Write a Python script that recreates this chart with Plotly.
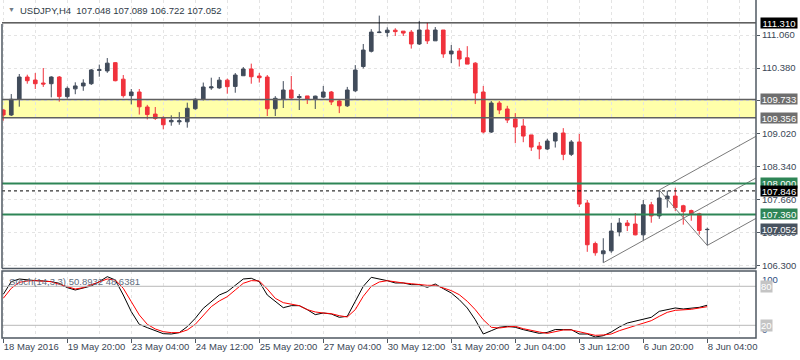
import plotly.graph_objects as go

# ---------------- data ----------------
bar_index = list(range(89))
tick_bars = [0, 8, 16, 24, 32, 40, 48, 56, 64, 72, 80, 88]
tick_labels = ["18 May 2016", "19 May 20:00", "23 May 04:00", "24 May 12:00", "25 May 20:00",
               "27 May 04:00", "30 May 12:00", "31 May 20:00", "2 Jun 04:00", "3 Jun 12:00",
               "6 Jun 20:00", "8 Jun 04:00"]

open_ = [109.514, 109.411, 109.735, 110.194, 110.132, 110.07, 110.056, 110.194, 109.79, 109.95,
         110.01, 110.056, 110.33, 110.32, 110.49, 110.15, 109.81, 109.885, 109.576, 109.43,
         109.36, 109.27, 109.27, 109.27, 109.54, 109.735, 109.97, 109.97, 110.13, 110.0,
         110.22, 110.36, 110.215, 110.194, 109.54, 109.735, 109.926, 109.77, 109.804, 109.74,
         109.78, 109.885, 109.70, 109.6, 109.91, 110.41, 110.725, 111.11, 111.11, 111.16,
         111.14, 111.12, 110.875, 111.163, 110.94, 111.163, 110.67, 110.73, 110.59, 110.48,
         109.885, 109.06, 109.658, 109.535, 109.33, 109.184, 109.0, 108.77, 108.71, 108.875,
         109.04, 108.6, 108.855, 107.596, 106.76, 106.55, 106.61, 107.0, 107.184, 107.163,
         106.94, 107.56, 107.33, 107.68, 107.74, 107.54, 107.44, 107.375, 107.048]
high = [109.53, 109.843, 110.256, 110.242, 110.276, 110.38, 110.21, 110.215, 110.00, 110.085,
        110.147, 110.36, 110.45, 110.585, 110.5, 110.235, 109.947, 109.947, 109.62, 109.576,
        109.385, 109.405, 109.47, 109.665, 109.755, 110.08, 110.18, 110.195, 110.16, 110.276,
        110.40, 110.47, 110.276, 110.235, 109.8, 110.11, 110.215, 109.843, 109.804, 109.81,
        110.01, 109.906, 109.72, 109.99, 110.44, 110.875, 111.18, 111.46, 111.22, 111.2,
        111.14, 111.163, 111.35, 111.31, 111.225, 111.163, 110.854, 110.79, 110.83, 110.5,
        110.01, 109.7, 109.7, 109.6, 109.45, 109.33, 109.0, 108.855, 108.92, 109.06,
        109.14, 108.895, 109.02, 107.66, 106.80, 106.87, 107.184, 107.287, 107.246, 107.39,
        107.658, 107.62, 107.865, 107.85, 107.91, 107.56, 107.46, 107.395, 107.089]
low = [109.294, 109.39, 109.582, 110.056, 109.947, 109.99, 109.775, 109.686, 109.75, 109.84,
       109.91, 110.03, 110.2, 110.28, 110.105, 109.77, 109.63, 109.42, 109.32, 109.31,
       109.115, 109.19, 109.21, 109.15, 109.52, 109.71, 109.93, 109.95, 109.85, 109.87,
       110.22, 110.056, 110.08, 109.39, 109.39, 109.555, 109.74, 109.514, 109.638, 109.535,
       109.76, 109.617, 109.45, 109.576, 109.885, 110.37, 110.70, 111.10, 111.025, 111.04,
       111.04, 110.78, 110.854, 110.875, 110.94, 110.59, 110.48, 110.41, 110.46, 109.637,
       109.033, 109.04, 109.43, 109.245, 108.83, 108.85, 108.67, 108.5, 108.69, 108.74,
       108.48, 108.565, 107.514, 106.59, 106.51, 106.365, 106.57, 106.91, 107.018, 106.93,
       106.82, 107.19, 107.27, 107.5, 107.43, 107.15, 107.23, 106.945, 106.722]
close = [109.411, 109.735, 110.194, 110.118, 110.056, 110.05, 110.194, 109.79, 109.96, 110.01,
         110.07, 110.34, 110.345, 110.48, 110.118, 109.81, 109.885, 109.58, 109.42, 109.34,
         109.21, 109.3, 109.29, 109.55, 109.735, 109.988, 109.99, 110.13, 109.995, 110.235,
         110.36, 110.2, 110.18, 109.54, 109.755, 109.926, 109.76, 109.79, 109.74, 109.80,
         109.885, 109.68, 109.60, 109.926, 110.338, 110.75, 111.12, 111.12, 111.16, 111.13,
         111.10, 110.875, 111.163, 110.94, 111.163, 110.67, 110.73, 110.565, 110.46, 109.865,
         109.06, 109.658, 109.514, 109.307, 109.163, 108.977, 108.75, 108.71, 108.875, 109.04,
         108.6, 108.855, 107.575, 106.736, 106.57, 106.61, 107.018, 107.184, 107.13, 106.94,
         107.56, 107.33, 107.70, 107.74, 107.50, 107.42, 107.36, 107.03, 107.052]

stoch_k = [67.6, 87.1, 91.2, 89.7, 88.7, 88.2, 87.1, 84.6, 77.9, 74.3,
           77.9, 80.5, 87.1, 94.8, 89.7, 66.6, 41.0, 21.5, 16.4, 11.2,
           7.1, 6.6, 8.7, 17.9, 30.7, 46.1, 56.4, 66.6, 71.7, 82.0,
           91.2, 92.3, 87.1, 66.6, 56.4, 47.1, 50.2, 50.2, 44.1, 36.4,
           38.9, 37.4, 32.3, 33.8, 56.9, 79.9, 93.8, 91.7, 88.6, 85.1,
           85.1, 82.5, 82.5, 78.4, 83.5, 76.4, 69.7, 59.4, 46.6, 28.6,
           6.6, 11.7, 16.9, 18.4, 16.9, 13.3, 10.7, 7.6, 9.0, 13.5,
           13.3, 13.3, 6.6, 6.6, 2.0, 4.0, 9.7, 17.4, 23.5, 26.1,
           28.6, 32.3, 41.5, 44.6, 46.6, 45.1, 46.6, 47.6, 50.8932]
stoch_d = [61.5, 76.9, 86.1, 88.2, 88.7, 88.2, 87.1, 83.0, 79.4, 75.8,
           77.9, 82.0, 86.1, 91.2, 89.7, 76.9, 56.4, 35.9, 21.5, 14.3,
           10.2, 8.7, 8.7, 12.8, 21.5, 35.9, 48.7, 57.4, 64.0, 74.3,
           84.6, 88.7, 88.2, 75.8, 61.5, 54.8, 52.3, 50.2, 44.1, 40.5,
           38.9, 37.9, 34.8, 32.8, 44.1, 64.6, 79.9, 86.6, 88.6, 86.6,
           85.1, 84.0, 82.5, 81.5, 81.5, 77.4, 73.3, 67.1, 56.9, 44.1,
           28.6, 16.9, 15.8, 17.4, 18.4, 14.8, 11.7, 9.7, 7.6, 9.7,
           12.8, 12.8, 9.7, 7.1, 4.6, 5.1, 6.6, 11.7, 15.8, 19.9,
           23.5, 27.1, 33.8, 39.9, 43.0, 43.5, 44.6, 46.6, 48.6381]

price_ticks = [111.06, 110.38, 109.70, 109.02, 108.34, 107.66, 106.98, 106.30]
stoch_levels = [80, 20]
stoch_bounds = ["100", "0"]

resistance_top = 111.310
band_upper = 109.733
band_lower = 109.356
green_levels = [108.000, 107.360]
dashed_level = 107.846
last_price = 107.052

# channel anchors (bar index, price)
chan_a = (75, 106.365)
chan_a2 = (88, 107.555)
chan_b = (82, 107.865)
chan_c = (88, 106.722)

header_text = "USDJPY,H4  107.048 107.089 106.722 107.052"
stoch_text = "Stoch(14,3,3) 50.8932 48.6381"

# ---------------- style ----------------
BULL = "#404b5a"
BEAR = "#f0323c"
FONT = "Liberation Sans, Arial, sans-serif"
TXT = "#3a4756"
GRID = "#e4e4e4"
BORDER = "#4f5862"

X_LEFT, X_RIGHT = -0.16, 94.09
MAIN_DOM = [0.2056, 1.0]
STOCH_DOM = [0.0, 0.1982]

fig = go.Figure()

fig.add_trace(go.Candlestick(
    x=bar_index, open=open_, high=high, low=low, close=close,
    increasing=dict(line=dict(color=BULL, width=1), fillcolor=BULL),
    decreasing=dict(line=dict(color=BEAR, width=1), fillcolor=BEAR),
    whiskerwidth=0, showlegend=False, hoverinfo="skip", xaxis="x", yaxis="y"))

# channel lines
slope = (chan_a2[1] - chan_a[1]) / (chan_a2[0] - chan_a[0])
chan_x, chan_y = [], []
for (bx, by) in (chan_a, chan_b, chan_c):
    chan_x += [bx, X_RIGHT, None]
    chan_y += [by, by + slope * (X_RIGHT - bx), None]
chan_x += [chan_b[0], chan_c[0]]
chan_y += [chan_b[1], chan_c[1]]
fig.add_trace(go.Scatter(x=chan_x, y=chan_y, mode="lines", line=dict(color="#7a7a7a", width=1),
                         showlegend=False, hoverinfo="skip", xaxis="x", yaxis="y", cliponaxis=True))

fig.add_trace(go.Scatter(x=bar_index, y=stoch_k, mode="lines", line=dict(color="#000000", width=1),
                         showlegend=False, hoverinfo="skip", xaxis="x", yaxis="y2"))
fig.add_trace(go.Scatter(x=bar_index, y=stoch_d, mode="lines", line=dict(color="#ff0000", width=1),
                         showlegend=False, hoverinfo="skip", xaxis="x", yaxis="y2"))

shapes = []
# yellow band
shapes.append(dict(type="rect", xref="paper", yref="y", x0=0, x1=1, y0=band_lower, y1=band_upper,
                   fillcolor="#ffffaa", line=dict(width=0), layer="below"))
for lv in (band_upper, band_lower):
    shapes.append(dict(type="line", xref="paper", yref="y", x0=0, x1=1, y0=lv, y1=lv,
                       line=dict(color="#606060", width=1.5), layer="above"))
shapes.append(dict(type="line", xref="paper", yref="y", x0=0, x1=1, y0=resistance_top, y1=resistance_top,
                   line=dict(color="#000000", width=1)))
for lv in green_levels:
    shapes.append(dict(type="line", xref="paper", yref="y", x0=0, x1=1, y0=lv, y1=lv,
                       line=dict(color="#2e8556", width=2)))
shapes.append(dict(type="line", xref="paper", yref="y", x0=0, x1=1, y0=dashed_level, y1=dashed_level,
                   line=dict(color="#000000", width=1, dash="3px,3px")))
for lv in stoch_levels:
    shapes.append(dict(type="line", xref="paper", yref="y2", x0=0, x1=1, y0=lv, y1=lv,
                       line=dict(color="#b8b8b8", width=1)))
# panel borders
shapes.append(dict(type="line", xref="paper", yref="paper", x0=0, x1=0, y0=MAIN_DOM[0], y1=0.929,
                   line=dict(color=BORDER, width=1.5)))
shapes.append(dict(type="line", xref="paper", yref="paper", x0=1, x1=1, y0=MAIN_DOM[0], y1=1,
                   line=dict(color=BORDER, width=1.5)))
shapes.append(dict(type="line", xref="paper", yref="paper", x0=0, x1=1, y0=MAIN_DOM[0], y1=MAIN_DOM[0],
                   line=dict(color=BORDER, width=1.5)))
shapes.append(dict(type="rect", xref="paper", yref="paper", x0=0, x1=1, y0=STOCH_DOM[0], y1=STOCH_DOM[1],
                   line=dict(color=BORDER, width=1.5)))

annotations = []
annotations.append(dict(text="▼", xref="paper", yref="paper", x=0, y=1, xshift=4, yshift=-4,
                        xanchor="left", yanchor="top", showarrow=False,
                        font=dict(family=FONT, size=7, color="#707a84")))
annotations.append(dict(text=header_text, xref="paper", yref="paper", x=0, y=1, xshift=16, yshift=-3,
                        xanchor="left", yanchor="top", showarrow=False,
                        font=dict(family=FONT, size=9.5, color="#2e3a46")))
annotations.append(dict(text=stoch_text, xref="paper", yref="paper", x=0, y=STOCH_DOM[1], xshift=5, yshift=-3,
                        xanchor="left", yanchor="top", showarrow=False,
                        font=dict(family=FONT, size=9.5, color="#5e6e80")))

price_labels = [
    (resistance_top, "#000000"),
    (band_upper, "#6e6e6e"),
    (band_lower, "#6e6e6e"),
    (green_levels[0], "#2e8556"),
    (dashed_level, "#000000"),
    (green_levels[1], "#2e8556"),
    (last_price, "#47525f"),
]
for val, col in price_labels:
    annotations.append(dict(text=f"{val:.3f}", xref="paper", yref="y", x=1, y=val, xshift=4,
                            xanchor="left", yanchor="middle", showarrow=False, bgcolor=col,
                            width=36, height=10, borderpad=0,
                            font=dict(family=FONT, size=9.5, color="#ffffff")))
# stoch scale labels: 100 near the panel top, 0 near the panel bottom
annotations.append(dict(text=stoch_bounds[0], xref="paper", yref="paper", x=1, y=STOCH_DOM[1],
                        xshift=4, yshift=-1, xanchor="left", yanchor="top", showarrow=False,
                        font=dict(family=FONT, size=9.5, color="#2d4d80")))
annotations.append(dict(text=stoch_bounds[1], xref="paper", yref="paper", x=1, y=STOCH_DOM[0],
                        xshift=4, yshift=1, xanchor="left", yanchor="bottom", showarrow=False,
                        font=dict(family=FONT, size=9.5, color="#2d4d80")))
for val in stoch_levels:
    annotations.append(dict(text=str(val), xref="paper", yref="y2", x=1, y=val, xshift=4,
                            xanchor="left", yanchor="middle", showarrow=False, bgcolor="#c4c4c4",
                            borderpad=0, font=dict(family=FONT, size=9.5, color="#ffffff")))

fig.update_layout(
    width=800, height=360,
    margin=dict(l=2, r=44, t=0, b=22),
    paper_bgcolor="#ffffff", plot_bgcolor="#ffffff",
    showlegend=False, boxgap=0.35,
    font=dict(family=FONT, size=9.5, color=TXT),
    xaxis=dict(domain=[0, 1], anchor="y2", range=[X_LEFT, X_RIGHT],
               tickmode="array", tickvals=tick_bars, ticktext=tick_labels, tickangle=0,
               ticks="outside", ticklen=4, tickcolor=BORDER, ticklabelposition="outside right",
               tickfont=dict(family=FONT, size=9.5, color=TXT),
               showgrid=True, gridcolor=GRID, griddash="3px,3px", gridwidth=1,
               minor=dict(tick0=0, dtick=4, showgrid=True, gridcolor=GRID, griddash="3px,3px", ticks=""),
               showline=False, zeroline=False, rangeslider=dict(visible=False), fixedrange=True),
    yaxis=dict(domain=MAIN_DOM, anchor="x", side="right", range=[106.246, 111.782],
               tickmode="array", tickvals=price_ticks, ticktext=[f"{v:.3f}" for v in price_ticks],
               ticks="outside", ticklen=3, tickcolor=BORDER,
               tickfont=dict(family=FONT, size=9.5, color=TXT),
               showgrid=True, gridcolor=GRID, griddash="3px,3px", zeroline=False, showline=False),
    yaxis2=dict(domain=STOCH_DOM, anchor="x", side="right", range=[0.46, 103.5],
                showticklabels=False, ticks="", showgrid=False, zeroline=False, showline=False),
    shapes=shapes, annotations=annotations,
)

fig.write_html("out.html", config={"displayModeBar": False, "staticPlot": True},
               post_script="document.body.style.margin='0';document.body.style.overflow='hidden';")
